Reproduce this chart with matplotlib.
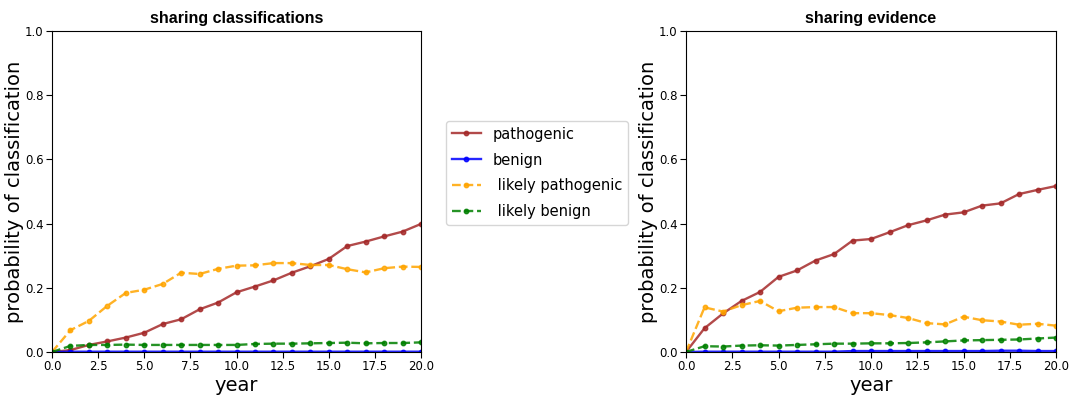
import matplotlib
matplotlib.use("Agg")
import matplotlib.pyplot as plt
import numpy as np

years = list(range(21))

# sharing classifications
cls_pathogenic = [0.0, 0.006, 0.022, 0.033, 0.045, 0.06, 0.087, 0.102, 0.133, 0.154, 0.186,
                  0.204, 0.223, 0.247, 0.267, 0.29, 0.33, 0.344, 0.36, 0.375, 0.399]
cls_benign = [0.0, 0.001, 0.001, 0.001, 0.001, 0.001, 0.001, 0.001, 0.001, 0.001, 0.001,
              0.001, 0.001, 0.001, 0.001, 0.001, 0.001, 0.001, 0.001, 0.001, 0.001]
cls_likely_pathogenic = [0.0, 0.068, 0.097, 0.144, 0.184, 0.194, 0.212, 0.247, 0.243, 0.259, 0.269,
                         0.27, 0.277, 0.277, 0.271, 0.271, 0.258, 0.248, 0.261, 0.266, 0.265]
cls_likely_benign = [0.0, 0.019, 0.022, 0.022, 0.023, 0.022, 0.022, 0.022, 0.022, 0.022, 0.022,
                     0.025, 0.026, 0.026, 0.027, 0.028, 0.029, 0.027, 0.028, 0.028, 0.03]

# sharing evidence
ev_pathogenic = [0.0, 0.074, 0.12, 0.159, 0.187, 0.234, 0.254, 0.285, 0.305, 0.347, 0.352,
                 0.373, 0.395, 0.41, 0.428, 0.435, 0.456, 0.463, 0.492, 0.505, 0.517]
ev_benign = [0.0, 0.001, 0.001, 0.001, 0.001, 0.001, 0.001, 0.001, 0.001, 0.003, 0.003,
             0.003, 0.003, 0.003, 0.003, 0.003, 0.003, 0.004, 0.004, 0.003, 0.003]
ev_likely_pathogenic = [0.0, 0.139, 0.126, 0.146, 0.159, 0.127, 0.138, 0.14, 0.14, 0.121, 0.121,
                        0.115, 0.106, 0.09, 0.086, 0.11, 0.099, 0.095, 0.085, 0.088, 0.082]
ev_likely_benign = [0.0, 0.018, 0.017, 0.02, 0.021, 0.02, 0.022, 0.024, 0.026, 0.026, 0.027,
                    0.027, 0.028, 0.03, 0.033, 0.036, 0.037, 0.038, 0.039, 0.042, 0.045]

titles = ["sharing classifications", "sharing evidence"]
labels = ["pathogenic", "benign", " likely pathogenic", " likely benign"]
colors = ["#a52a2a", "#0000ff", "#ffa500", "#008000"]
styles = ["-", "-", "--", "--"]
xticks = [0.0, 2.5, 5.0, 7.5, 10.0, 12.5, 15.0, 17.5, 20.0]
yticks = [0.0, 0.2, 0.4, 0.6, 0.8, 1.0]

fig = plt.figure(figsize=(10.69, 3.98), dpi=100)
ax1 = fig.add_axes([52/1069, 1-352/398, (421-52)/1069, (352-31)/398])
ax2 = fig.add_axes([686/1069, 1-352/398, (1056-686)/1069, (352-31)/398])

datasets = [
    [cls_pathogenic, cls_benign, cls_likely_pathogenic, cls_likely_benign],
    [ev_pathogenic, ev_benign, ev_likely_pathogenic, ev_likely_benign],
]

handles = []
for ax, title, series in zip([ax1, ax2], titles, datasets):
    for s, lab, c, ls in zip(series, labels, colors, styles):
        h, = ax.plot(years, s, ls, color=c, marker="o", markersize=3.2, linewidth=1.7,
                     label=lab, alpha=0.85)
        if ax is ax1:
            handles.append(h)
    ax.set_xlim(0, 20)
    ax.set_ylim(0, 1)
    ax.set_xticks(xticks)
    ax.set_yticks(yticks)
    ax.set_xticklabels([f"{t:.1f}" for t in xticks], fontsize=8.5)
    ax.set_yticklabels([f"{t:.1f}" for t in yticks], fontsize=8.5)
    ax.tick_params(length=4, pad=2)
    ax.set_title(title, fontsize=11.5, fontweight="bold", family="Liberation Sans")
    ax.set_xlabel("year", fontsize=14, labelpad=2)
    ax.set_ylabel("probability of classification", fontsize=14, labelpad=1)

fig.legend(handles=handles, labels=labels, loc="center", bbox_to_anchor=(537/1069, 1-173/398),
           fontsize=10.5, handlelength=2, labelspacing=0.75)

fig.savefig("out.png", dpi=100)
